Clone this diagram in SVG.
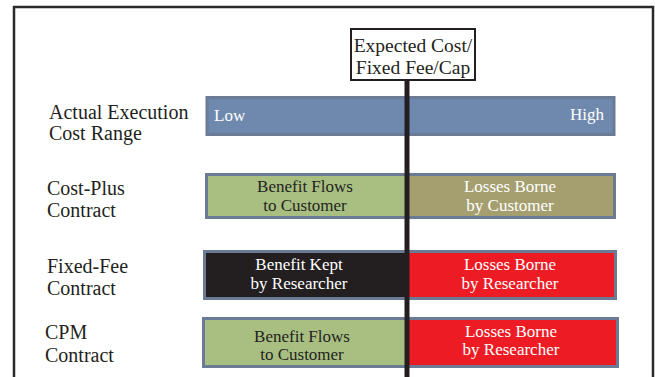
<svg xmlns="http://www.w3.org/2000/svg" width="655" height="377" viewBox="0 0 655 377">
<style>
text{font-family:'Liberation Serif',serif}
.lbl{font-size:20px;fill:#231f20}
.t{font-size:17px;text-anchor:middle}
.w{fill:#ffffff}
.d{fill:#231f20}
.bar{stroke:#6b7b96;stroke-width:3}
</style>
<rect width="655" height="377" fill="#ffffff"/>
<path d="M14,380 V7 H653 V380" fill="none" stroke="#2b2a2b" stroke-width="2.5"/>
<g id="label-actual"><text class="lbl" x="49" y="119">Actual Execution</text><text class="lbl" x="49" y="140">Cost Range</text></g>
<g id="label-costplus"><text class="lbl" x="47" y="195">Cost-Plus</text><text class="lbl" x="47" y="217">Contract</text></g>
<g id="label-fixedfee"><text class="lbl" x="47" y="273">Fixed-Fee</text><text class="lbl" x="47" y="295">Contract</text></g>
<g id="label-cpm"><text class="lbl" x="45" y="339">CPM</text><text class="lbl" x="45" y="362">Contract</text></g>
<g id="bar-range">
<rect class="bar" x="207" y="97.5" width="407" height="37" fill="#6f89ae" stroke="#8797b0"/>
<text class="t w" x="214" y="121" style="text-anchor:start">Low</text>
<text class="t w" x="604" y="120" style="text-anchor:end">High</text>
</g>
<g id="bar-costplus">
<rect class="bar" x="206.5" y="174.5" width="408" height="43" fill="#a9bf82"/>
<rect x="408" y="176" width="205" height="40" fill="#a59f70"/>
<text class="t d" x="305" y="192">Benefit Flows</text><text class="t d" x="305" y="211">to Customer</text>
<text class="t w" x="510" y="192">Losses Borne</text><text class="t w" x="510" y="211">by Customer</text>
</g>
<g id="bar-fixedfee">
<rect class="bar" x="204.5" y="251.5" width="411" height="47" fill="#231f20"/>
<rect x="408" y="253" width="206" height="44" fill="#ed1c24"/>
<text class="t w" x="299" y="270">Benefit Kept</text><text class="t w" x="299" y="289">by Researcher</text>
<text class="t w" x="510" y="270">Losses Borne</text><text class="t w" x="510" y="289">by Researcher</text>
</g>
<g id="bar-cpm">
<rect class="bar" x="203.5" y="318.5" width="414" height="48" fill="#a9bf82"/>
<rect x="408" y="320" width="208" height="45" fill="#ed1c24"/>
<text class="t d" x="302" y="342">Benefit Flows</text><text class="t d" x="302" y="360">to Customer</text>
<text class="t w" x="511" y="337">Losses Borne</text><text class="t w" x="511" y="355">by Researcher</text>
</g>
<g id="connectors">
<line x1="407" y1="80" x2="407" y2="377" stroke="#231f20" stroke-width="5"/>
</g>
<g id="node-expected">
<rect x="351" y="29" width="124" height="51" fill="#ffffff" stroke="#231f20" stroke-width="2"/>
<text class="lbl" x="413" y="52" text-anchor="middle" style="font-size:19.5px">Expected Cost/</text>
<text class="lbl" x="413" y="74" text-anchor="middle" style="font-size:19.5px">Fixed Fee/Cap</text>
</g>
</svg>
